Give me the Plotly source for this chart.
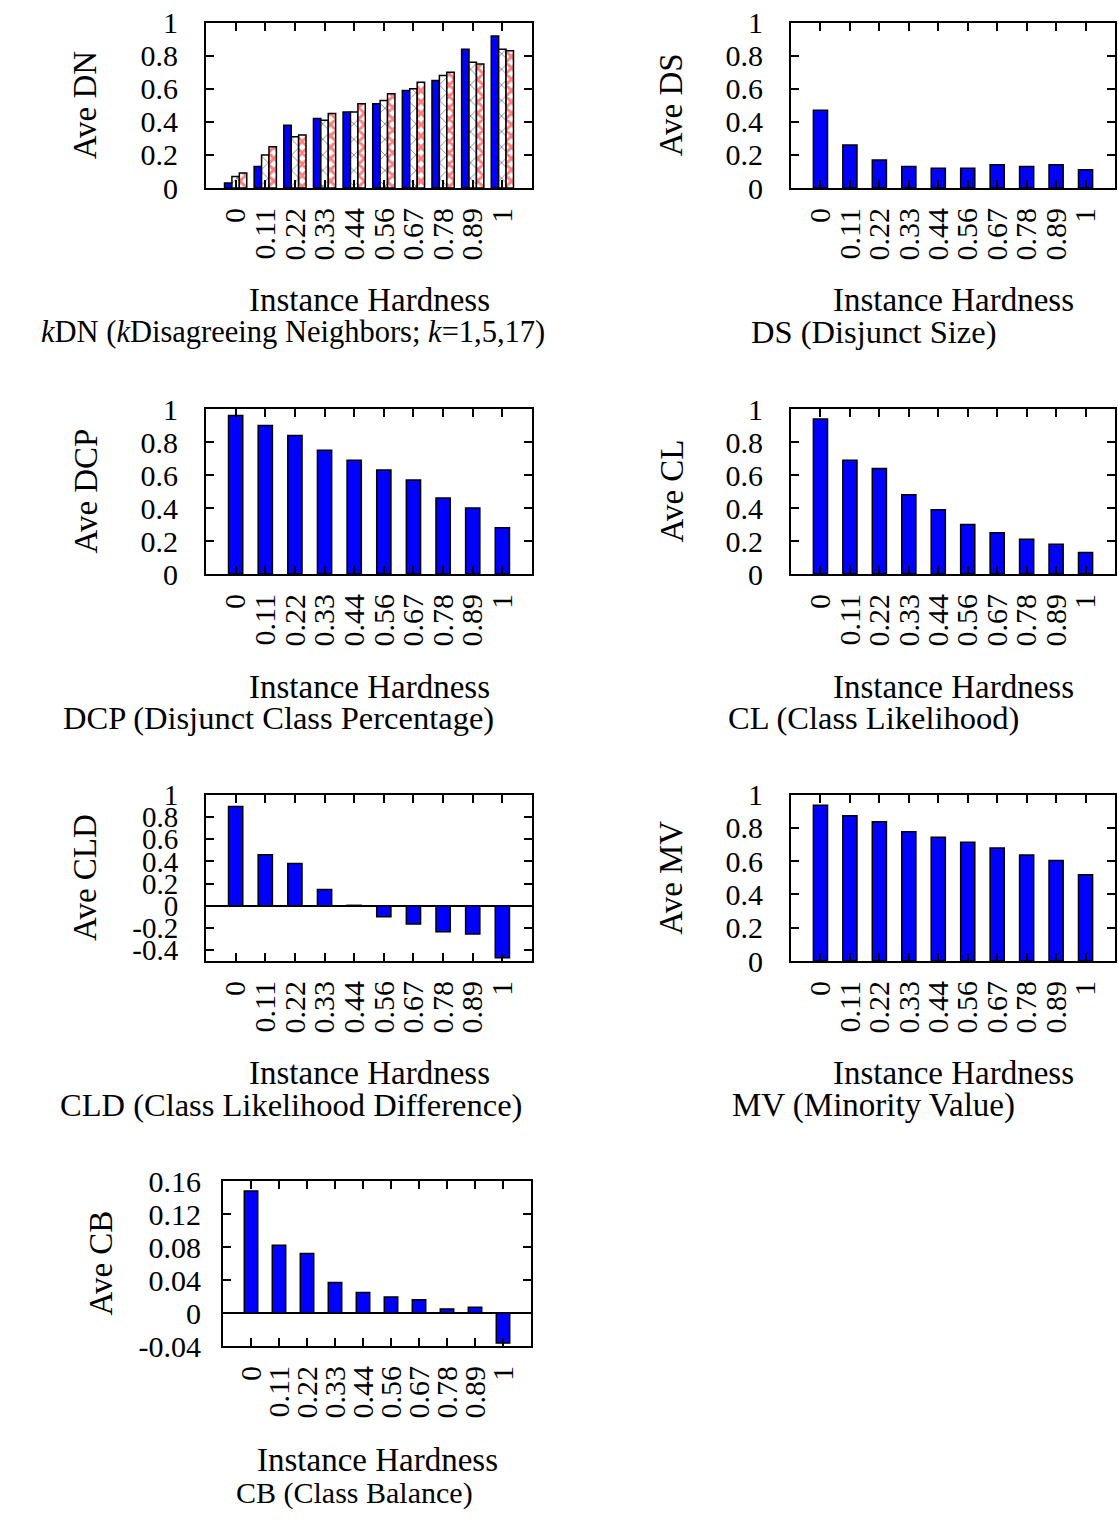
import plotly.graph_objects as go

W, H = 1118, 1528
FONT = "Liberation Serif, serif"

hardness_labels = ["0", "0.11", "0.22", "0.33", "0.44", "0.56", "0.67", "0.78", "0.89", "1"]

kdn_k1 = [0.03, 0.13, 0.38, 0.42, 0.46, 0.51, 0.59, 0.65, 0.84, 0.92]
kdn_k5 = [0.07, 0.20, 0.31, 0.41, 0.46, 0.53, 0.60, 0.68, 0.76, 0.84]
kdn_k17 = [0.09, 0.25, 0.32, 0.45, 0.51, 0.57, 0.64, 0.70, 0.75, 0.83]
ds_vals = [0.47, 0.26, 0.17, 0.13, 0.12, 0.12, 0.14, 0.13, 0.14, 0.11]
dcp_vals = [0.96, 0.90, 0.84, 0.75, 0.69, 0.63, 0.57, 0.46, 0.40, 0.28]
cl_vals = [0.94, 0.69, 0.64, 0.48, 0.39, 0.30, 0.25, 0.21, 0.18, 0.13]
cld_vals = [0.895, 0.46, 0.38, 0.145, 0.003, -0.10, -0.165, -0.235, -0.255, -0.47]
mv_vals = [0.935, 0.872, 0.836, 0.777, 0.743, 0.713, 0.679, 0.637, 0.604, 0.518]
cb_vals = [0.148, 0.082, 0.072, 0.037, 0.025, 0.0195, 0.016, 0.005, 0.007, -0.0365]

y01_vals = [0, 0.2, 0.4, 0.6, 0.8, 1]
y01_text = ["0", "0.2", "0.4", "0.6", "0.8", "1"]
cld_tick_vals = [-0.4, -0.2, 0, 0.2, 0.4, 0.6, 0.8, 1]
cld_tick_text = ["-0.4", "-0.2", "0", "0.2", "0.4", "0.6", "0.8", "1"]
cb_tick_vals = [-0.04, 0, 0.04, 0.08, 0.12, 0.16]
cb_tick_text = ["-0.04", "0", "0.04", "0.08", "0.12", "0.16"]

positions = list(range(len(hardness_labels)))

panels = [
    (206, 532, 22.7, 188),
    (791, 1115, 22.7, 188),
    (206, 532, 409, 574),
    (791, 1115, 409, 574),
    (206, 532, 795, 961),
    (791, 1115, 794.5, 961),
    (223, 531, 1181, 1346),
]


def dx(l, r):
    return [l / W, r / W]


def dy(t, b):
    return [1 - b / H, 1 - t / H]


fig = go.Figure()

BLUE = dict(color="#0000ff", line=dict(color="black", width=1.5))


def add_single(vals, idx):
    fig.add_trace(go.Bar(x=positions, y=vals, width=0.48, marker=BLUE,
                         xaxis="x%d" % idx, yaxis="y%d" % idx, showlegend=False))


fig.add_trace(go.Bar(x=positions, y=kdn_k1, width=0.25, offset=-0.375, marker=BLUE,
                     xaxis="x", yaxis="y", showlegend=False))
fig.add_trace(go.Bar(x=positions, y=kdn_k5, width=0.25, offset=-0.125,
                     marker=dict(color="white", line=dict(color="black", width=1.5),
                                 pattern=dict(shape="x", fgcolor="black", bgcolor="white",
                                              size=11, solidity=0.15)),
                     xaxis="x", yaxis="y", showlegend=False))
fig.add_trace(go.Bar(x=positions, y=kdn_k17, width=0.25, offset=0.125,
                     marker=dict(color="white", line=dict(color="black", width=1.5),
                                 pattern=dict(shape="x", fgcolor="#ff0000", bgcolor="white",
                                              size=8, solidity=0.6)),
                     xaxis="x", yaxis="y", showlegend=False))

add_single(ds_vals, 2)
add_single(dcp_vals, 3)
add_single(cl_vals, 4)
add_single(cld_vals, 5)
add_single(mv_vals, 6)
add_single(cb_vals, 7)

tickfont = dict(family=FONT, size=30, color="black")

y_specs = [
    ([0, 1], y01_vals, y01_text, False),
    ([0, 1], y01_vals, y01_text, False),
    ([0, 1], y01_vals, y01_text, False),
    ([0, 1], y01_vals, y01_text, False),
    ([-0.5, 1], cld_tick_vals, cld_tick_text, True),
    ([0, 1], y01_vals, y01_text, False),
    ([-0.04, 0.16], cb_tick_vals, cb_tick_text, True),
]

layout = dict(width=W, height=H, autosize=False,
              margin=dict(l=0, r=0, t=0, b=0, pad=0, autoexpand=False),
              paper_bgcolor="white", plot_bgcolor="white", barmode="overlay",
              showlegend=False)

for i, (l, r, t, b) in enumerate(panels):
    n = i + 1
    xname = "xaxis" if n == 1 else "xaxis%d" % n
    yname = "yaxis" if n == 1 else "yaxis%d" % n
    xa = "x" if n == 1 else "x%d" % n
    ya = "y" if n == 1 else "y%d" % n
    layout[xname] = dict(domain=dx(l, r), anchor=ya, range=[-1, 10],
                         tickvals=positions, ticktext=hardness_labels, tickangle=-90,
                         ticks="inside", ticklen=8, tickwidth=1.5, tickcolor="black",
                         showline=True, linecolor="black", linewidth=2, mirror="ticks",
                         showgrid=False, zeroline=False, tickfont=tickfont,
                         ticklabelstandoff=6, fixedrange=True, automargin=False)
    rng, tv, tt, zl = y_specs[i]
    layout[yname] = dict(domain=dy(t, b), anchor=xa, range=rng,
                         tickvals=tv, ticktext=tt,
                         ticks="inside", ticklen=8, tickwidth=1.5, tickcolor="black",
                         showline=True, linecolor="black", linewidth=2, mirror="ticks",
                         showgrid=False, zeroline=zl, zerolinecolor="black",
                         zerolinewidth=1.5,
                         tickfont=tickfont if n != 5 else dict(family=FONT, size=29, color="black"),
                         ticklabelstandoff=20 if n != 7 else 14, fixedrange=True,
                         automargin=False)

fig.update_layout(**layout)

titlefont = dict(family=FONT, size=33, color="black")

ann = []
for (l, r, t, b), yc in zip(panels, [300, 300, 687, 687, 1073, 1073, 1460]):
    ann.append(dict(text="Instance Hardness", x=(l + r) / 2 / W, y=1 - yc / H,
                    xref="paper", yref="paper", xanchor="center", yanchor="middle",
                    showarrow=False, font=titlefont))
ytitles = ["Ave DN", "Ave DS", "Ave DCP", "Ave CL", "Ave CLD", "Ave MV", "Ave CB"]
yx = [85, 671, 85, 671, 85, 671, 100]
for (l, r, t, b), txt, xc in zip(panels, ytitles, yx):
    ann.append(dict(text=txt, x=xc / W, y=1 - (t + b) / 2 / H, textangle=-90,
                    xref="paper", yref="paper", xanchor="center", yanchor="middle",
                    showarrow=False, font=titlefont))
captions = [
    ("<i>k</i>DN (<i>k</i>Disagreeing Neighbors; <i>k</i>=1,5,17)", 293, 332, 30.5),
    ("DS (Disjunct Size)", 874, 332, 32.5),
    ("DCP (Disjunct Class Percentage)", 278, 718, 32.5),
    ("CL (Class Likelihood)", 873, 718, 32.5),
    ("CLD (Class Likelihood Difference)", 291, 1105, 32.5),
    ("MV (Minority Value)", 873, 1105, 33),
    ("CB (Class Balance)", 354, 1493, 30),
]
for txt, xc, yc, fs in captions:
    ann.append(dict(text=txt, x=xc / W, y=1 - yc / H,
                    xref="paper", yref="paper", xanchor="center", yanchor="middle",
                    showarrow=False, font=dict(family=FONT, size=fs, color="black")))

fig.update_layout(annotations=ann)

fig.write_html("out.html")
